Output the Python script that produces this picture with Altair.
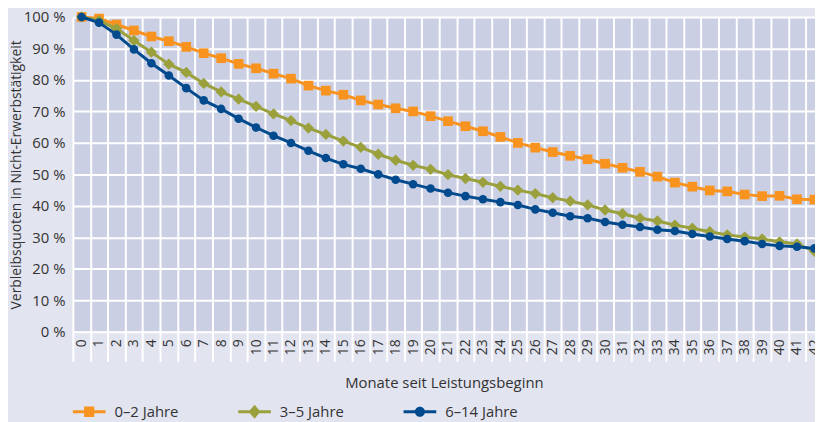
import altair as alt
import pandas as pd

# ---------------- data ----------------
months = list(range(43))
series_names = ["0–2 Jahre", "3–5 Jahre", "6–14 Jahre"]

vals_0_2 = [100, 99.5, 97.6, 95.7, 93.8, 92.3, 90.5, 88.5, 86.9, 85.1,
            83.7, 82.0, 80.4, 78.2, 76.6, 75.3, 73.5, 72.2, 71.0, 70.0,
            68.5, 66.9, 65.3, 63.7, 61.9, 60.0, 58.5, 57.1, 55.9, 54.8,
            53.4, 52.1, 50.8, 49.3, 47.4, 46.1, 44.9, 44.6, 43.6, 43.1,
            43.2, 42.1, 42.0]
vals_3_5 = [100, 98.8, 96.3, 92.5, 88.8, 85.0, 82.4, 78.9, 76.2, 73.9,
            71.6, 69.2, 67.1, 64.7, 62.7, 60.6, 58.6, 56.4, 54.5, 52.9,
            51.6, 49.9, 48.7, 47.5, 46.2, 45.0, 43.9, 42.6, 41.5, 40.3,
            38.7, 37.5, 36.1, 35.2, 33.9, 32.9, 31.8, 30.8, 30.1, 29.5,
            28.6, 27.9, 25.6]
vals_6_14 = [100, 98.2, 94.4, 89.7, 85.3, 81.4, 77.4, 73.5, 70.8, 67.7,
             64.9, 62.3, 60.0, 57.5, 55.2, 53.2, 51.8, 50.0, 48.3, 46.9,
             45.5, 44.2, 43.1, 42.1, 41.2, 40.3, 38.9, 37.8, 36.7, 36.1,
             34.9, 34.0, 33.3, 32.4, 32.0, 31.1, 30.3, 29.5, 28.8, 27.9,
             27.3, 27.0, 26.5]

y_ticks = list(range(0, 101, 10))
grid_positions = [m - 0.5 for m in months]

# ---------------- styling ----------------
colors = ["#F7931E", "#9AA03C", "#004A8D"]
shapes = ["square", "diamond", "circle"]
marker_sizes = [95, 130, 75]
legend_paths = [
    "M-1,-0.09H1V0.09H-1Z M-0.31,-0.32H0.31V0.32H-0.31Z",
    "M-1,-0.09H1V0.09H-1Z M0,-0.43L0.36,0L0,0.43L-0.36,0Z",
    "M-1,-0.09H1V0.09H-1Z M0.31,0A0.31,0.31 0 1,1 -0.31,0A0.31,0.31 0 1,1 0.31,0Z",
]
FONT = "Open Sans"
TEXT = "#333333"
PLOT_BG = "#CBCFE3"
OUTER_BG = "#E2E4F0"
W, H = 749.5, 318

rows = []
for name, vals in zip(series_names, [vals_0_2, vals_3_5, vals_6_14]):
    for m, v in zip(months, vals):
        rows.append({"Monat": m, "Wert": v, "Gruppe": name})
df = pd.DataFrame(rows)

x_scale = alt.Scale(domain=[-0.5, 42.03], nice=False, zero=False)
y_scale = alt.Scale(domain=[0, 100], nice=False, zero=True)

x_label_axis = alt.Axis(
    values=months, labelAngle=270, grid=False, ticks=False, domain=False,
    labelPadding=7, labelFlush=False, labelOverlap=False,
    labelFont=FONT, labelFontSize=14, labelColor=TEXT,
    title="Monate seit Leistungsbeginn", titleFont=FONT, titleFontSize=15,
    titleFontWeight="normal", titleColor=TEXT, titlePadding=21, orient="bottom",
)
x_grid_axis = alt.Axis(
    values=grid_positions, grid=True, gridColor="white", gridWidth=2,
    ticks=True, tickSize=30, tickColor="white", tickWidth=2,
    labels=False, domain=False, title=None, orient="bottom",
)
y_axis = alt.Axis(
    values=y_ticks, labelExpr="datum.value + ' %'", grid=True,
    gridColor="white", gridWidth=2, ticks=False, domain=False,
    labelPadding=8, labelFont=FONT, labelFontSize=15, labelColor=TEXT,
    title="Verbleibsquoten in Nicht-Erwerbstätigkeit", titleFont=FONT,
    titleFontSize=14, titleFontWeight="normal", titleColor=TEXT, titlePadding=0,
)

base = alt.Chart(df)
layers = []
for i, name in enumerate(series_names):
    sub = base.transform_filter(alt.datum.Gruppe == name)
    line = sub.mark_line(color=colors[i], strokeWidth=3).encode(
        x=alt.X("Monat:Q", scale=x_scale, axis=x_label_axis if i == 0 else None),
        y=alt.Y("Wert:Q", scale=y_scale, axis=y_axis),
    )
    pts = sub.mark_point(
        shape=shapes[i], filled=True, color=colors[i], size=marker_sizes[i],
        opacity=1, strokeWidth=0,
    ).encode(
        x=alt.X("Monat:Q", scale=x_scale, axis=None),
        y=alt.Y("Wert:Q", scale=y_scale, axis=y_axis),
    )
    layers += [line, pts]

legend_layer = base.transform_filter("datum.Wert < 0").mark_point(
    filled=True, opacity=1, strokeWidth=0
).encode(
    x=alt.X("Monat:Q", scale=x_scale, axis=x_grid_axis),
    y=alt.Y("Wert:Q", scale=y_scale, axis=y_axis),
    color=alt.Color("Gruppe:N", scale=alt.Scale(domain=series_names, range=colors),
                    legend=alt.Legend(title=None)),
    shape=alt.Shape("Gruppe:N", scale=alt.Scale(domain=series_names, range=legend_paths),
                    legend=alt.Legend(title=None)),
)

chart = alt.layer(legend_layer, *layers).resolve_axis(x="independent").properties(
    width=W, height=H,
    autosize=alt.AutoSizeParams(type="none"),
    padding={"left": 65.5, "top": 7, "right": 0, "bottom": 89},
    background=OUTER_BG,
).configure_view(
    fill=PLOT_BG, stroke=None,
).configure_legend(
    orient="bottom", direction="horizontal", offset=4,
    symbolSize=1089, symbolStrokeWidth=0, symbolOpacity=1,
    labelFont=FONT, labelFontSize=15, labelColor=TEXT, labelOffset=9,
    columnPadding=60, padding=0,
)

chart.save("out.html", embed_options={"renderer": "svg", "actions": False})
